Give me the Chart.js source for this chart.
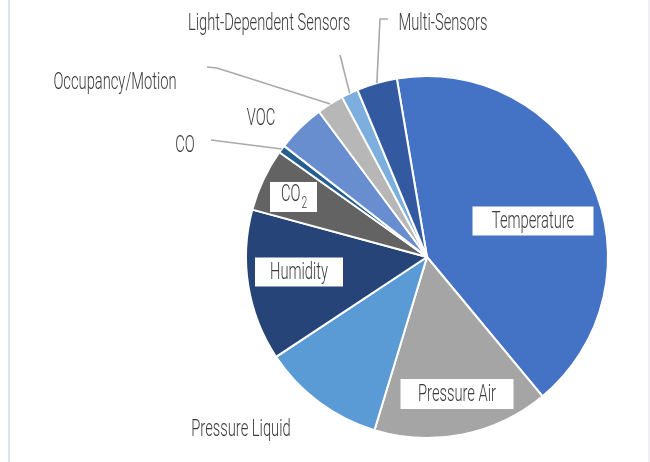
<!DOCTYPE html>
<html><head><meta charset="utf-8">
<script src="https://cdn.jsdelivr.net/npm/chart.js@4"></script>
<style>
html,body{margin:0;padding:0;background:#fff;}
#wrap{position:relative;width:650px;height:462px;}
#lb{position:absolute;left:8px;top:0;width:2px;height:462px;background:#dfe2f3;}
#rb{position:absolute;left:648px;top:0;width:2px;height:462px;background:#efeff5;}
</style></head><body>
<div id="wrap"><canvas id="c" width="650" height="462"></canvas><div id="lb"></div><div id="rb"></div></div>
<script>
const categories = ["Temperature","Pressure Air","Pressure Liquid","Humidity","CO2","CO","VOC","Occupancy/Motion","Light-Dependent Sensors","Multi-Sensors"];
const shares = [41.6, 15.7, 11.0, 13.5, 5.6, 0.7, 4.3, 2.4, 1.5, 3.6];
const colors = ["#4472C4","#A5A5A5","#5B9BD5","#264478","#636363","#255E91","#698ED0","#B7B7B7","#7CAFDD","#335AA1"];

// label layout (positions of text / boxes / leader elbows)
const labelLayout = [
  {x:533, y:220, box:[121,29]},
  {x:457, y:393, box:[113,30]},
  {x:241, y:428},
  {x:299, y:271, box:[88,29]},
  {x:290, y:193, box:[47,30], boxCy:197, sub:true},
  {x:185, y:144, leader:[[211,140]]},
  {x:261, y:117},
  {x:115, y:81, leader:[[207,67],[217,68]]},
  {x:269, y:22, leader:[[340,55]]},
  {x:443, y:22, leader:[[388,19],[380,19]]}
];

const FONT_SIZE = 23;
const SX = 0.64;
const TEXT_COLOR = "#3b3b3b";
const FONT_FAMILY = "Roboto, 'Liberation Sans', sans-serif";

function fontStr(size){ return "300 " + size + "px " + FONT_FAMILY; }

function drawText(ctx, txt, cx, cy, size){
  ctx.save();
  ctx.font = fontStr(size);
  const w = ctx.measureText(txt).width * SX;
  ctx.translate(cx - w/2, cy + size*0.711/2);
  ctx.scale(SX,1);
  ctx.fillStyle = TEXT_COLOR;
  ctx.textBaseline = "alphabetic";
  ctx.fillText(txt,0,0);
  ctx.restore();
  return w;
}

const labelPlugin = {
  id:'sliceLabels',
  afterDatasetsDraw(chart){
    const ctx = chart.ctx;
    const meta = chart.getDatasetMeta(0);
    meta.data.forEach((arc,i)=>{
      const L = labelLayout[i];
      const p = arc.getProps(['x','y','startAngle','endAngle','outerRadius'],true);
      const mid = (p.startAngle+p.endAngle)/2;
      if (L.leader){
        ctx.save();
        ctx.strokeStyle = "#a9a9a9";
        ctx.lineWidth = 1.6;
        ctx.beginPath();
        ctx.moveTo(L.leader[0][0], L.leader[0][1]);
        for (let k=1;k<L.leader.length;k++) ctx.lineTo(L.leader[k][0], L.leader[k][1]);
        ctx.lineTo(p.x + Math.cos(mid)*p.outerRadius, p.y + Math.sin(mid)*p.outerRadius);
        ctx.stroke();
        ctx.restore();
      }
      if (L.box){
        const bcx = L.sub ? 293.5 : L.x;
        const bcy = L.boxCy || L.y + 1;
        ctx.fillStyle = "#ffffff";
        ctx.fillRect(bcx - L.box[0]/2, bcy - L.box[1]/2, L.box[0], L.box[1]);
      }
      const name = categories[i];
      if (L.sub){
        const base = name.slice(0,-1), sub = name.slice(-1);
        ctx.save();
        ctx.font = fontStr(FONT_SIZE);
        const w1 = ctx.measureText(base).width*SX;
        ctx.font = fontStr(FONT_SIZE*0.7);
        const w2 = ctx.measureText(sub).width*SX;
        ctx.restore();
        const left = 293.5 - (w1+w2)/2;
        drawText(ctx, base, left + w1/2, L.y, FONT_SIZE);
        drawText(ctx, sub, left + w1 + w2/2 + 1, L.y + 9, FONT_SIZE*0.7);
      } else {
        drawText(ctx, name, L.x, L.y, FONT_SIZE);
      }
    });
  }
};

new Chart(document.getElementById('c'), {
  type:'pie',
  data:{
    labels:categories,
    datasets:[{
      data:shares,
      backgroundColor:colors,
      borderColor:"#ffffff",
      borderWidth:2
    }]
  },
  options:{
    responsive:false,
    animation:false,
    rotation:-9.6,
    radius:181,
    layout:{padding:{left:204, right:0, top:52, bottom:0}},
    plugins:{legend:{display:false}, tooltip:{enabled:false}}
  },
  plugins:[labelPlugin]
});
</script>
</body></html>
